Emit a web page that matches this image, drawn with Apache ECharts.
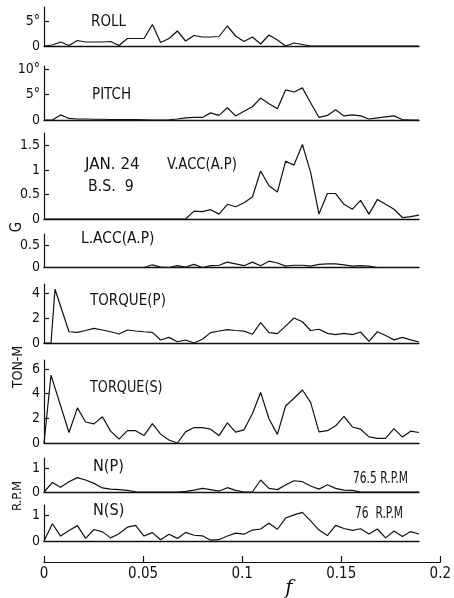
<!DOCTYPE html>
<html><head><meta charset="utf-8">
<script src="https://cdn.jsdelivr.net/npm/echarts@6/dist/echarts.min.js"></script>
<style>html,body{margin:0;padding:0;background:#fff}#c{width:454px;height:598px}</style>
</head><body><div id="c"></div>
<script>
// frequency grid (f)
const F = [0,0.0042,0.0083,0.0125,0.0167,0.0208,0.025,0.0292,0.0333,0.0375,0.0417,0.0458,0.05,0.0542,0.0583,0.0625,0.0667,0.0708,0.075,0.0792,0.0833,0.0875,0.0917,0.0958,0.1,0.1042,0.1083,0.1125,0.1167,0.1208,0.125,0.1292,0.1333,0.1375,0.1417,0.1458,0.15,0.1542,0.1583,0.1625,0.1667,0.1708,0.175,0.1792,0.1833,0.1875];
const ROLL = [0,0.2,0.8,0.1,1.1,0.8,0.8,0.8,0.9,0.1,1.5,1.5,1.5,4.3,0.7,1.5,3.0,1.0,2.1,1.8,1.8,1.9,4.0,2.0,0.9,1.8,0.4,2.2,1.2,0,0.6,0.3,0,0,0,0,0,0,0,0,0,0,0,0,0,0];
const PITCH = [0,0,1.0,0.3,0.2,0.2,0.15,0.15,0.1,0.1,0.1,0.1,0.05,0,0,0.05,0.2,0.4,0.5,0.5,1.4,0.9,2.4,0.8,1.7,2.6,4.3,3.2,2.2,5.9,5.5,6.3,3.4,0.5,0.9,2.0,0.8,1.0,0.8,0.2,0.4,0.6,0.8,0.1,0,0];
const VACC = [0,0,0,0,0,0,0,0,0,0,0,0,0,0,0,0,0,0,0.16,0.15,0.19,0.1,0.3,0.25,0.33,0.45,0.98,0.68,0.55,1.18,1.1,1.52,0.95,0.1,0.52,0.52,0.3,0.2,0.38,0.1,0.4,0.3,0.2,0.03,0.05,0.08];
const LACC = [0,0,0,0,0,0,0,0,0,0,0,0,0,0.06,0.01,0,0.04,0.01,0.07,0,0.04,0.05,0.12,0.08,0.04,0.12,0.04,0.14,0.1,0.03,0.05,0.05,0.03,0.07,0.08,0.08,0.06,0.03,0.04,0.03,0,0,0,0,0,0];
// torque: first points read separately, then values on F from index 3
const TQP_HEAD_F = [0,0.0035,0.0055];
const TQP_HEAD = [0,0,4.3];
const TQP = [0.9,0.85,1.0,1.17,1.04,0.9,0.72,1.04,0.96,0.9,0.85,0.24,0.45,0.1,0.24,0,0.3,0.83,0.96,1.07,1.0,0.95,0.7,1.63,0.83,0.75,1.35,2.0,1.7,1.0,1.1,0.77,0.67,0.77,0.67,0.88,0.13,0.9,0.6,0.25,0.45,0.25,0.08];
const TQS_HEAD_F = [0,0.0035];
const TQS_HEAD = [0,5.5];
const TQS = [0.85,2.85,1.7,1.55,2.13,0.96,0.32,1.0,1.0,0.6,1.57,0.72,0.24,0,0.9,1.25,1.25,1.12,0.6,1.63,0.88,1.07,2.37,4.1,1.97,0.7,3.0,3.63,4.3,3.3,0.9,1.0,1.39,2.16,1.3,1.12,0.5,0.37,0.37,1.17,0.48,0.96,0.85];
const NP = [0,0.4,0.2,0.43,0.6,0.5,0.36,0.17,0.12,0.1,0.07,0.01,0,0,0,0,0,0.03,0.08,0.15,0.1,0.04,0.18,0.07,0,0,0.5,0.15,0.1,0.29,0.47,0.43,0.25,0.12,0.3,0.15,0.08,0.07,0,0,0,0,0,0,0,0];
const NS = [0,0.66,0.19,0.4,0.59,0.1,0.44,0.35,0.12,0.28,0.53,0.6,0.19,0.32,0.05,0.26,0.1,0.33,0.22,0.2,0.03,0.05,0.19,0.3,0.26,0.42,0.46,0.68,0.45,0.88,1.0,1.1,0.77,0.42,0.21,0.6,0.48,0.41,0.47,0.27,0.46,0.12,0.38,0.17,0.36,0.27];
const X_TICKS = [0,0.05,0.1,0.15,0.2];
const X_TICK_LABELS = ['0','0.05','0.1','0.15','0.2'];

const pairs = (xs, ys) => ys.map((v, i) => [xs[i], v]);
const torqueP = pairs(TQP_HEAD_F, TQP_HEAD).concat(pairs(F.slice(3), TQP));
const torqueS = pairs(TQS_HEAD_F, TQS_HEAD).concat(pairs(F.slice(3), TQS));

const FONT = "'DejaVu Sans Condensed','Liberation Sans Narrow','DejaVu Sans',sans-serif";
const INK = '#111';
const panels = [
  {top:7,   h:39, max:7.8,  ticks:[5],        labels:{0:'0',5:'5°'},        data:pairs(F,ROLL)},
  {top:66,  h:54, max:10.6, ticks:[5,10],     labels:{0:'0',5:'5°',10:'10°'}, data:pairs(F,PITCH)},
  {top:133, h:86, max:1.755,ticks:[0.5,1,1.5],labels:{0:'0',0.5:'0.5',1:'1',1.5:'1.5'}, data:pairs(F,VACC)},
  {top:234, h:33.5,max:0.744,ticks:[0.5],     labels:{0:'0',0.5:'0.5'},      data:pairs(F,LACC)},
  {top:284, h:59, max:4.72, ticks:[2,4],      labels:{0:'0',2:'2',4:'4'},    data:torqueP},
  {top:360, h:83, max:6.73, ticks:[2,4,6],    labels:{0:'0',2:'2',4:'4',6:'6'}, data:torqueS},
  {top:458, h:34, max:1.42, ticks:[1],        labels:{0:'0',1:'1'},          data:pairs(F,NP)},
  {top:505, h:36, max:1.38, ticks:[1],        labels:{0:'0',1:'1'},          data:pairs(F,NS)}
];

const grid = [], xAxis = [], yAxis = [], series = [];
panels.forEach((p, i) => {
  grid.push({left:44, top:p.top, width:375, height:p.h});
  xAxis.push({type:'value', gridIndex:i, min:0, max:0.1875,
    axisLine:{show:true, onZero:false, lineStyle:{color:INK, width:1.3}},
    axisTick:{show:false}, axisLabel:{show:false}, splitLine:{show:false}});
  yAxis.push({type:'value', gridIndex:i, min:0, max:p.max,
    axisLine:{show:true, lineStyle:{color:INK, width:1.2}},
    axisTick:{show:true, inside:true, length:5, customValues:p.ticks, lineStyle:{color:INK, width:1.2}},
    axisLabel:{show:true, customValues:[0].concat(p.ticks), margin:4, color:INK, fontSize:14, fontFamily:FONT,
      formatter:v => { for (const k in p.labels) { if (Math.abs(+k - v) < 1e-6) return p.labels[k]; } return ''; }},
    splitLine:{show:false}});
  series.push({type:'line', xAxisIndex:i, yAxisIndex:i, data:p.data, symbol:'none',
    lineStyle:{color:INK, width:1.2}, clip:false, animation:false});
});
// bottom frequency axis
grid.push({left:44, top:561, width:400, height:1});
xAxis.push({type:'value', gridIndex:8, min:0, max:0.2, interval:0.05,
  axisLine:{show:true, onZero:false, lineStyle:{color:INK, width:1.2}},
  axisTick:{show:true, inside:true, length:6, lineStyle:{color:INK, width:1.2}},
  axisLabel:{show:true, margin:5, color:INK, fontSize:15, fontFamily:FONT,
    formatter:v => { const k = X_TICKS.findIndex(t => Math.abs(t - v) < 1e-9); return k >= 0 ? X_TICK_LABELS[k] : ''; }},
  splitLine:{show:false}});
yAxis.push({type:'value', gridIndex:8, show:false, min:0, max:1});
series.push({type:'line', xAxisIndex:8, yAxisIndex:8, data:[], symbol:'none'});

const txt = (text, left, top, size, sx) => ({
  type:'text', left, top, scaleX:sx||1, scaleY:1.08,
  style:{text, fill:INK, font:`${size}px ${FONT}`}
});

const graphic = [
  txt('ROLL', 91, 14, 15, 1.0),
  txt('PITCH', 92, 87, 15, 1.0),
  txt('JAN. 24', 85, 157, 15, 1.12),
  txt('V.ACC(A.P)', 167, 157, 15, 0.98),
  txt('B.S.  9', 88, 179, 15, 1.05),
  txt('L.ACC(A.P)', 81, 232, 14, 1.1),
  txt('TORQUE(P)', 90, 293, 15, 1.0),
  txt('TORQUE(S)', 90, 380, 15, 0.95),
  txt('N(P)', 93, 460, 14, 1.15),
  txt('76.5 R.P.M', 353, 472, 14, 0.85),
  txt('N(S)', 93, 504, 14, 1.15),
  txt('76  R.P.M', 355, 507, 14, 0.85),
  {type:'text', x:17, y:227, rotation:Math.PI/2, style:{text:'G', fill:INK, font:`15px ${FONT}`, align:'center', verticalAlign:'middle'}},
  {type:'text', x:18, y:367, rotation:Math.PI/2, style:{text:'TON-M', fill:INK, font:`14px ${FONT}`, align:'center', verticalAlign:'middle'}},
  {type:'text', x:18, y:496, rotation:Math.PI/2, style:{text:'R.P.M', fill:INK, font:`13px ${FONT}`, align:'center', verticalAlign:'middle'}},
  {type:'text', x:289, y:589, style:{text:'f', fill:INK, font:`italic 20px 'DejaVu Serif',serif`, align:'center', verticalAlign:'middle'}}
];

const chart = echarts.init(document.getElementById('c'), null, {renderer:'canvas'});
chart.setOption({animation:false, backgroundColor:'#fff', grid, xAxis, yAxis, series, graphic});
</script></body></html>
